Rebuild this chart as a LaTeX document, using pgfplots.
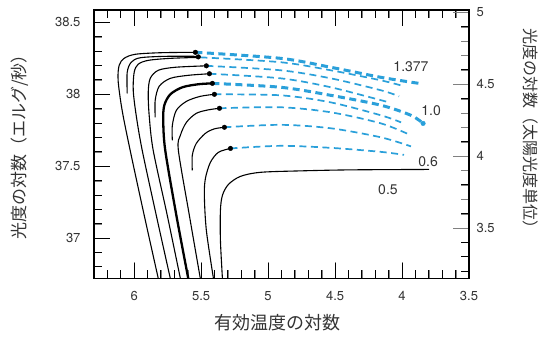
\documentclass[border=0pt]{standalone}
\usepackage{pgfplots}
\pgfplotsset{compat=1.18}
\usepackage{fontspec}
\setmainfont{TeX Gyre Heros}
\newfontfamily\jp{Noto Sans CJK JP}
\definecolor{tblue}{HTML}{2AA0DA}
\definecolor{txt}{HTML}{333333}
\begin{document}
\begin{tikzpicture}
\pgfplotsset{
  base/.style={
    scale only axis, width=375pt, height=268.5pt,
    xmin=3.5, xmax=6.3, x dir=reverse,
    tick align=inside, major tick length=16pt, minor tick length=8pt,
    axis line style={line width=1.2pt},
    /pgf/number format/assume math mode=true,
    tick label style={font=\fontsize{13}{13}\selectfont, text=txt},
  },
  blk/.style={black, line width=1.1pt, smooth, tension=0.5},
  blu/.style={tblue, line width=1.7pt, dash pattern=on 7pt off 4.5pt, smooth, tension=0.5},
  tk/.style={black, line width=1pt, unbounded coords=jump, forget plot},
}
\begin{axis}[base, name=main, clip=false,
  ymin=36.72, ymax=38.586,
  xtick={3.5,4,4.5,5,5.5,6}, minor x tick num=4,
  ytick={37,37.5,38,38.5}, minor y tick num=4,
  xtick pos=both, ytick pos=left, xticklabel pos=bottom,
  yticklabel style={xshift=-10pt},
  xticklabel style={yshift=-9pt},
  xlabel={\jp 有効温度の対数},
  ylabel={\jp 光度の対数（エルグ/秒）},
  every axis x label/.style={at={(axis description cs:0.49,-0.166)}, anchor=center, font=\fontsize{18}{18}\selectfont, text=txt},
  every axis y label/.style={at={(axis description cs:-0.197,0.505)}, anchor=center, rotate=90, font=\fontsize{17}{17}\selectfont, text=txt},
]
% inward tick marks
\addplot[tk] coordinates {(6.3,36.8)(6.24,36.8)(6.3,nan)(6.3,36.9)(6.24,36.9)(6.3,nan)(6.3,37.1)(6.24,37.1)(6.3,nan)(6.3,37.2)(6.24,37.2)(6.3,nan)(6.3,37.3)(6.24,37.3)(6.3,nan)(6.3,37.4)(6.24,37.4)(6.3,nan)(6.3,37.6)(6.24,37.6)(6.3,nan)(6.3,37.7)(6.24,37.7)(6.3,nan)(6.3,37.8)(6.24,37.8)(6.3,nan)(6.3,37.9)(6.24,37.9)(6.3,nan)(6.3,38.1)(6.24,38.1)(6.3,nan)(6.3,38.2)(6.24,38.2)(6.3,nan)(6.3,38.3)(6.24,38.3)(6.3,nan)(6.3,38.4)(6.24,38.4)};
\addplot[tk] coordinates {(6.3,37)(6.18,37)(6.3,nan)(6.3,37.5)(6.18,37.5)(6.3,nan)(6.3,38)(6.18,38)(6.3,nan)(6.3,38.5)(6.18,38.5)};
\addplot[tk] coordinates {(3.6,36.72)(3.6,36.776)(3.6,nan)(3.7,36.72)(3.7,36.776)(3.7,nan)(3.8,36.72)(3.8,36.776)(3.8,nan)(3.9,36.72)(3.9,36.776)(3.9,nan)(4.1,36.72)(4.1,36.776)(4.1,nan)(4.2,36.72)(4.2,36.776)(4.2,nan)(4.3,36.72)(4.3,36.776)(4.3,nan)(4.4,36.72)(4.4,36.776)(4.4,nan)(4.6,36.72)(4.6,36.776)(4.6,nan)(4.7,36.72)(4.7,36.776)(4.7,nan)(4.8,36.72)(4.8,36.776)(4.8,nan)(4.9,36.72)(4.9,36.776)(4.9,nan)(5.1,36.72)(5.1,36.776)(5.1,nan)(5.2,36.72)(5.2,36.776)(5.2,nan)(5.3,36.72)(5.3,36.776)(5.3,nan)(5.4,36.72)(5.4,36.776)(5.4,nan)(5.6,36.72)(5.6,36.776)(5.6,nan)(5.7,36.72)(5.7,36.776)(5.7,nan)(5.8,36.72)(5.8,36.776)(5.8,nan)(5.9,36.72)(5.9,36.776)(5.9,nan)(6.1,36.72)(6.1,36.776)(6.1,nan)(6.2,36.72)(6.2,36.776)};
\addplot[tk] coordinates {(3.6,38.586)(3.6,38.53)(3.6,nan)(3.7,38.586)(3.7,38.53)(3.7,nan)(3.8,38.586)(3.8,38.53)(3.8,nan)(3.9,38.586)(3.9,38.53)(3.9,nan)(4.1,38.586)(4.1,38.53)(4.1,nan)(4.2,38.586)(4.2,38.53)(4.2,nan)(4.3,38.586)(4.3,38.53)(4.3,nan)(4.4,38.586)(4.4,38.53)(4.4,nan)(4.6,38.586)(4.6,38.53)(4.6,nan)(4.7,38.586)(4.7,38.53)(4.7,nan)(4.8,38.586)(4.8,38.53)(4.8,nan)(4.9,38.586)(4.9,38.53)(4.9,nan)(5.1,38.586)(5.1,38.53)(5.1,nan)(5.2,38.586)(5.2,38.53)(5.2,nan)(5.3,38.586)(5.3,38.53)(5.3,nan)(5.4,38.586)(5.4,38.53)(5.4,nan)(5.6,38.586)(5.6,38.53)(5.6,nan)(5.7,38.586)(5.7,38.53)(5.7,nan)(5.8,38.586)(5.8,38.53)(5.8,nan)(5.9,38.586)(5.9,38.53)(5.9,nan)(6.1,38.586)(6.1,38.53)(6.1,nan)(6.2,38.586)(6.2,38.53)};
\addplot[tk] coordinates {(4,36.72)(4,36.831)(4,nan)(4.5,36.72)(4.5,36.831)(4.5,nan)(5,36.72)(5,36.831)(5,nan)(5.5,36.72)(5.5,36.831)(5.5,nan)(6,36.72)(6,36.831)(6,nan)(4,38.586)(4,38.475)(4,nan)(4.5,38.586)(4.5,38.475)(4.5,nan)(5,38.586)(5,38.475)(5,nan)(5.5,38.586)(5.5,38.475)(5.5,nan)(6,38.586)(6,38.475)};
\addplot[tk] coordinates {(3.5,36.77)(3.56,36.77)(3.5,nan)(3.5,36.87)(3.56,36.87)(3.5,nan)(3.5,36.97)(3.56,36.97)(3.5,nan)(3.5,37.17)(3.56,37.17)(3.5,nan)(3.5,37.27)(3.56,37.27)(3.5,nan)(3.5,37.37)(3.56,37.37)(3.5,nan)(3.5,37.47)(3.56,37.47)(3.5,nan)(3.5,37.67)(3.56,37.67)(3.5,nan)(3.5,37.77)(3.56,37.77)(3.5,nan)(3.5,37.87)(3.56,37.87)(3.5,nan)(3.5,37.97)(3.56,37.97)(3.5,nan)(3.5,38.17)(3.56,38.17)(3.5,nan)(3.5,38.27)(3.56,38.27)(3.5,nan)(3.5,38.37)(3.56,38.37)(3.5,nan)(3.5,38.47)(3.56,38.47)};
\addplot[tk] coordinates {(3.5,37.07)(3.62,37.07)(3.5,nan)(3.5,37.57)(3.62,37.57)(3.5,nan)(3.5,38.07)(3.62,38.07)(3.5,nan)(3.5,38.57)(3.62,38.57)};
% black tracks
\addplot[blk] coordinates {(5.820,36.720)(5.925,37.159)(6.030,37.611)(6.090,37.889)(6.120,38.097)(6.112,38.202)(6.075,38.250)(5.993,38.278)(5.805,38.289)(5.543,38.292)};
\addplot[blk] coordinates {(6.052,38.007)(6.052,38.153)(6.022,38.223)(5.955,38.254)(5.768,38.264)(5.521,38.264)};
\addplot[blk] coordinates {(5.730,36.720)(5.835,37.159)(5.940,37.611)(5.985,37.854)(6.007,38.028)(6.000,38.153)(5.970,38.209)(5.895,38.236)(5.730,38.250)(5.506,38.257)};
\addplot[blk] coordinates {(5.655,36.720)(5.753,37.159)(5.858,37.611)(5.888,37.854)(5.895,38.014)(5.880,38.111)(5.820,38.167)(5.693,38.188)(5.461,38.198)};
\addplot[blk] coordinates {(5.843,37.840)(5.843,37.958)(5.813,38.056)(5.730,38.111)(5.596,38.132)(5.438,38.143)};
\addplot[blk, line width=2.3pt] coordinates {(5.596,36.720)(5.685,37.159)(5.768,37.611)(5.783,37.819)(5.775,37.924)(5.730,38.000)(5.640,38.049)(5.521,38.070)(5.416,38.076)};
\addplot[blk] coordinates {(5.715,37.680)(5.715,37.784)(5.685,37.889)(5.610,37.951)(5.506,37.986)(5.401,38.000)};
\addplot[blk] coordinates {(5.506,36.720)(5.588,37.159)(5.670,37.611)(5.655,37.715)(5.610,37.805)(5.536,37.868)(5.446,37.892)(5.363,37.903)};
\addplot[blk] coordinates {(5.566,37.471)(5.566,37.576)(5.536,37.659)(5.468,37.729)(5.401,37.760)(5.326,37.771)};
\addplot[blk] coordinates {(5.408,36.720)(5.461,37.054)(5.476,37.298)(5.468,37.416)(5.431,37.527)(5.371,37.597)(5.281,37.624)};
\addplot[blk] coordinates {(5.341,36.720)(5.356,36.985)(5.356,37.193)(5.341,37.298)(5.296,37.374)(5.206,37.430)(5.056,37.458)(4.757,37.468)(4.382,37.475)(3.798,37.478)};
% blue dashed continuations
\addplot[blu, line width=3pt] coordinates {(5.543,38.292)(4.906,38.250)(4.532,38.188)(4.157,38.118)(3.873,38.076)};
\addplot[blu] coordinates {(5.506,38.257)(4.906,38.223)(4.532,38.167)(4.157,38.097)(3.985,38.056)};
\addplot[blu] coordinates {(5.461,38.198)(4.906,38.167)(4.532,38.111)(4.157,38.028)(4.022,37.986)};
\addplot[blu] coordinates {(5.438,38.143)(4.906,38.111)(4.532,38.049)(4.097,37.944)};
\addplot[blu, line width=3pt] coordinates {(5.416,38.076)(4.906,38.049)(4.532,37.993)(4.157,37.924)(3.933,37.854)(3.843,37.798)};
\addplot[blu] coordinates {(5.401,38.000)(4.906,37.993)(4.532,37.944)(4.157,37.854)(4.007,37.805)};
\addplot[blu] coordinates {(5.363,37.903)(4.906,37.910)(4.532,37.875)(4.157,37.798)(3.933,37.715)};
\addplot[blu] coordinates {(5.326,37.771)(4.906,37.788)(4.532,37.764)(4.157,37.701)(3.933,37.638)};
\addplot[blu] coordinates {(5.281,37.624)(4.906,37.642)(4.532,37.628)(4.157,37.600)(3.985,37.579)};
% dots
\addplot[only marks, mark=*, mark size=2.3pt, black] coordinates {(5.543,38.292)(5.521,38.260)(5.461,38.198)(5.438,38.143)(5.416,38.076)(5.401,38.000)(5.363,37.903)(5.326,37.771)(5.281,37.624)};
\addplot[only marks, mark=*, mark size=2.3pt, tblue] coordinates {(3.843,37.798)};
% mass labels
\node[text=txt, font=\fontsize{14}{14}\selectfont] at (axis cs:3.933,38.191) {1.377};
\node[text=txt, font=\fontsize{14}{14}\selectfont] at (axis cs:3.783,37.889) {1.0};
\node[text=txt, font=\fontsize{14}{14}\selectfont] at (axis cs:3.805,37.534) {0.6};
\node[text=txt, font=\fontsize{14}{14}\selectfont] at (axis cs:4.105,37.339) {0.5};
\end{axis}
\begin{axis}[base,
  axis x line=none, axis y line*=right,
  ymin=3.15, ymax=5.016,
  ytick={3.5,4,4.5,5}, minor y tick num=4,
  yticklabel style={xshift=4pt},
  ylabel={\jp 光度の対数（太陽光度単位）},
  every axis y label/.style={at={(axis description cs:1.165,0.542)}, anchor=center, rotate=-90, font=\fontsize{16}{16}\selectfont, text=txt},
]
\end{axis}
\pgfresetboundingbox
\path[use as bounding box] ([shift={(-94pt,-58.5pt)}]main.south west) rectangle ([shift={(85pt,10pt)}]main.north east);
\end{tikzpicture}
\end{document}
